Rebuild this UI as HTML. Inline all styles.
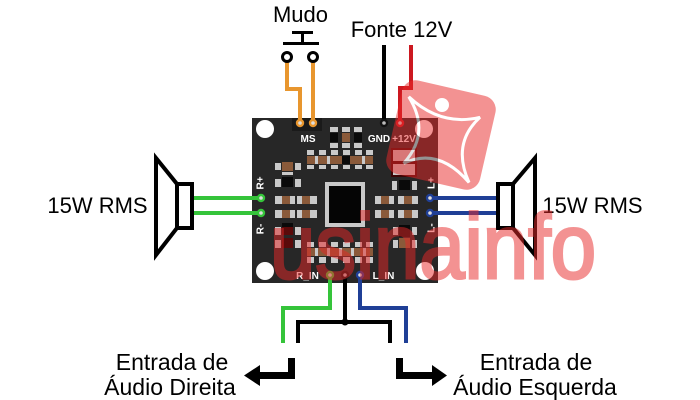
<!DOCTYPE html>
<html><head><meta charset="utf-8"><style>
html,body{margin:0;padding:0;background:#fff}
svg{display:block}
text{font-family:"Liberation Sans",Arial,sans-serif}
</style></head><body>
<svg width="700" height="400" viewBox="0 0 700 400" xmlns="http://www.w3.org/2000/svg">
<rect width="700" height="400" fill="#fff"/>

<!-- top labels -->
<text x="300.5" y="22" font-size="22" text-anchor="middle" fill="#000">Mudo</text>
<text x="401.5" y="37" font-size="22" text-anchor="middle" fill="#000">Fonte 12V</text>

<!-- push button -->
<g stroke="#000" stroke-width="3" fill="none">
<line x1="292" y1="32.5" x2="313" y2="32.5"/>
<line x1="302.5" y1="32" x2="302.5" y2="44"/>
<line x1="283" y1="43.5" x2="319" y2="43.5"/>
</g>

<!-- board -->
<rect x="252" y="118" width="186" height="165" fill="#272727"/>
<rect x="292" y="118" width="30" height="13" fill="#1a1a1a"/>
<circle cx="265" cy="129" r="9" fill="#fff"/>
<circle cx="424" cy="129" r="9" fill="#fff"/>
<circle cx="265" cy="271" r="9" fill="#fff"/>
<circle cx="425" cy="271" r="9" fill="#fff"/>

<!-- pads -->
<g>
<rect x="330" y="127" width="8" height="5" fill="#c9c9c9"/>
<rect x="342" y="127" width="8" height="5" fill="#c9c9c9"/>
<rect x="354" y="127" width="8" height="5" fill="#c9c9c9"/>
<rect x="330" y="133" width="8" height="9" fill="#0a0a0a"/>
<rect x="342" y="133" width="8" height="9" fill="#8a5a3a"/>
<rect x="354" y="133" width="8" height="9" fill="#0a0a0a"/>
<rect x="330" y="143" width="8" height="5" fill="#c9c9c9"/>
<rect x="342" y="143" width="8" height="5" fill="#c9c9c9"/>
<rect x="354" y="143" width="8" height="5" fill="#c9c9c9"/>
<rect x="307" y="150" width="7" height="5" fill="#c9c9c9"/>
<rect x="319" y="150" width="7" height="5" fill="#c9c9c9"/>
<rect x="331" y="150" width="7" height="5" fill="#c9c9c9"/>
<rect x="343" y="150" width="7" height="5" fill="#c9c9c9"/>
<rect x="355" y="150" width="7" height="5" fill="#c9c9c9"/>
<rect x="366" y="150" width="7" height="5" fill="#c9c9c9"/>
<rect x="307" y="156" width="66" height="8" fill="#8a5a3a"/>
<rect x="315" y="156" width="3" height="8" fill="#c9c9c9"/>
<rect x="327" y="156" width="3" height="8" fill="#c9c9c9"/>
<rect x="342" y="156" width="8" height="8" fill="#0a0a0a"/>
<rect x="362" y="156" width="3" height="8" fill="#c9c9c9"/>
<rect x="307" y="165" width="7" height="4" fill="#c9c9c9"/>
<rect x="319" y="165" width="7" height="4" fill="#c9c9c9"/>
<rect x="331" y="165" width="7" height="4" fill="#c9c9c9"/>
<rect x="343" y="165" width="7" height="4" fill="#c9c9c9"/>
<rect x="355" y="165" width="7" height="4" fill="#c9c9c9"/>
<rect x="366" y="165" width="7" height="4" fill="#c9c9c9"/>
<rect x="275" y="163" width="6" height="7" fill="#c9c9c9"/>
<rect x="282" y="162" width="11" height="9" fill="#8a5a3a"/>
<rect x="295" y="163" width="6" height="7" fill="#c9c9c9"/>
<rect x="282" y="172" width="11" height="3" fill="#c9c9c9"/>
<rect x="275" y="179" width="6" height="8" fill="#c9c9c9"/>
<rect x="282" y="177" width="11" height="10" fill="#0a0a0a"/>
<rect x="295" y="179" width="6" height="8" fill="#c9c9c9"/>
<rect x="275" y="196" width="7" height="8" fill="#c9c9c9"/>
<rect x="282" y="196" width="8" height="8" fill="#8a5a3a"/>
<rect x="290" y="196" width="5" height="8" fill="#c9c9c9"/>
<rect x="297" y="196" width="5" height="8" fill="#c9c9c9"/>
<rect x="302" y="196" width="8" height="8" fill="#8a5a3a"/>
<rect x="310" y="196" width="7" height="8" fill="#c9c9c9"/>
<rect x="275" y="210" width="7" height="8" fill="#c9c9c9"/>
<rect x="282" y="210" width="8" height="8" fill="#8a5a3a"/>
<rect x="290" y="210" width="5" height="8" fill="#c9c9c9"/>
<rect x="297" y="210" width="5" height="8" fill="#c9c9c9"/>
<rect x="302" y="210" width="8" height="8" fill="#8a5a3a"/>
<rect x="310" y="210" width="7" height="8" fill="#c9c9c9"/>
<rect x="375" y="196" width="6" height="8" fill="#c9c9c9"/>
<rect x="381" y="196" width="8" height="8" fill="#8a5a3a"/>
<rect x="389" y="196" width="5" height="8" fill="#c9c9c9"/>
<rect x="398" y="196" width="6" height="8" fill="#c9c9c9"/>
<rect x="404" y="196" width="8" height="8" fill="#8a5a3a"/>
<rect x="412" y="196" width="6" height="8" fill="#c9c9c9"/>
<rect x="375" y="210" width="6" height="8" fill="#c9c9c9"/>
<rect x="381" y="210" width="8" height="8" fill="#8a5a3a"/>
<rect x="389" y="210" width="5" height="8" fill="#c9c9c9"/>
<rect x="398" y="210" width="6" height="8" fill="#c9c9c9"/>
<rect x="404" y="210" width="8" height="8" fill="#8a5a3a"/>
<rect x="412" y="210" width="6" height="8" fill="#c9c9c9"/>
<rect x="325" y="182" width="40" height="45" fill="#c9c9c9"/>
<rect x="329" y="186" width="32" height="37" fill="#050505"/>
<rect x="275" y="227" width="6" height="8" fill="#c9c9c9"/>
<rect x="282" y="223" width="11" height="4" fill="#0a0a0a"/>
<rect x="282" y="227" width="11" height="8" fill="#5a0a0a"/>
<rect x="295" y="227" width="6" height="8" fill="#c9c9c9"/>
<rect x="275" y="240" width="6" height="8" fill="#c9c9c9"/>
<rect x="282" y="238" width="11" height="10" fill="#5a0a0a"/>
<rect x="295" y="240" width="6" height="8" fill="#c9c9c9"/>
<rect x="307" y="242" width="7" height="5" fill="#c9c9c9"/>
<rect x="319" y="242" width="7" height="5" fill="#c9c9c9"/>
<rect x="331" y="242" width="7" height="5" fill="#c9c9c9"/>
<rect x="343" y="242" width="7" height="5" fill="#c9c9c9"/>
<rect x="355" y="242" width="7" height="5" fill="#c9c9c9"/>
<rect x="366" y="242" width="7" height="5" fill="#c9c9c9"/>
<rect x="307" y="248" width="66" height="8" fill="#8a5a3a"/>
<rect x="315" y="248" width="3" height="8" fill="#c9c9c9"/>
<rect x="327" y="248" width="3" height="8" fill="#c9c9c9"/>
<rect x="339" y="248" width="3" height="8" fill="#c9c9c9"/>
<rect x="351" y="248" width="3" height="8" fill="#c9c9c9"/>
<rect x="363" y="248" width="3" height="8" fill="#c9c9c9"/>
<rect x="307" y="257" width="7" height="6" fill="#c9c9c9"/>
<rect x="319" y="257" width="7" height="6" fill="#c9c9c9"/>
<rect x="331" y="257" width="7" height="6" fill="#c9c9c9"/>
<rect x="343" y="257" width="7" height="6" fill="#c9c9c9"/>
<rect x="355" y="257" width="7" height="6" fill="#c9c9c9"/>
<rect x="366" y="257" width="7" height="6" fill="#c9c9c9"/>
<rect x="393" y="227" width="5" height="8" fill="#c9c9c9"/>
<rect x="399" y="225" width="11" height="12" fill="#0a0a0a"/>
<rect x="412" y="227" width="5" height="8" fill="#c9c9c9"/>
<rect x="393" y="240" width="5" height="8" fill="#c9c9c9"/>
<rect x="399" y="238" width="11" height="10" fill="#8a5a3a"/>
<rect x="412" y="240" width="5" height="8" fill="#c9c9c9"/>
<rect x="391" y="148" width="26" height="29" fill="#3a0505"/>
<rect x="393" y="150" width="22" height="11" fill="#c9c9c9"/>
<rect x="393" y="164" width="22" height="11" fill="#c9c9c9"/>
<rect x="392" y="181" width="5" height="9" fill="#c9c9c9"/>
<rect x="399" y="180" width="11" height="10" fill="#0a0a0a"/>
<rect x="412" y="181" width="5" height="9" fill="#c9c9c9"/>
</g>

<!-- board labels -->
<g font-size="10" font-weight="bold" fill="#fff" text-anchor="middle">
<text x="308" y="142">MS</text>
<text x="379" y="142">GND</text>
<text x="404" y="142">+12V</text>
<text x="307.5" y="279">R_IN</text>
<text x="383.5" y="279">L_IN</text>
<text transform="translate(263.5,183) rotate(-90)">R+</text>
<text transform="translate(263.5,229) rotate(-90)">R-</text>
<text transform="translate(434.5,183) rotate(-90)">L+</text>
<text transform="translate(434.5,228) rotate(-90)">L-</text>
</g>

<!-- wires -->
<g fill="none" stroke-width="4" stroke-linejoin="miter" stroke-linecap="butt">
<path d="M287,62 V89 H300 V123" stroke="#e8962e"/>
<path d="M313,62 V123" stroke="#e8962e"/>
<path d="M384,45 V123" stroke="#000"/>
<path d="M411,45 V88 H400 V123" stroke="#cc1820"/>
<path d="M192,198 H261" stroke="#35c43a"/>
<path d="M192,213 H261" stroke="#35c43a"/>
<path d="M430,198 H498" stroke="#1f3f96"/>
<path d="M430,213 H498" stroke="#1f3f96"/>
<path d="M330,275 V308 H283 V343" stroke="#35c43a"/>
<path d="M345,275 V322" stroke="#000"/>
<path d="M298,343 V322 H390 V343" stroke="#000"/>
<path d="M360,275 V308 H406 V343" stroke="#1f3f96"/>
</g>
<circle cx="345" cy="322" r="3.5" fill="#000"/>

<!-- switch contacts -->
<circle cx="287" cy="57" r="4.5" fill="#fff" stroke="#000" stroke-width="3"/>
<circle cx="313" cy="57" r="4.5" fill="#fff" stroke="#000" stroke-width="3"/>

<!-- pins -->
<g>
<circle cx="300" cy="123" r="4.2" fill="#e8962e"/><circle cx="300" cy="123" r="1.8" fill="#ddd"/>
<circle cx="313" cy="123" r="4.2" fill="#e8962e"/><circle cx="313" cy="123" r="1.8" fill="#ddd"/>
<circle cx="384" cy="123" r="4.2" fill="#111"/><circle cx="384" cy="123" r="1.8" fill="#bbb"/>
<circle cx="400" cy="123" r="4.2" fill="#cc1820"/><circle cx="400" cy="123" r="1.8" fill="#ddd"/>
<circle cx="261" cy="198" r="4.2" fill="#35c43a"/><circle cx="261" cy="198" r="1.8" fill="#ddd"/>
<circle cx="261" cy="213" r="4.2" fill="#35c43a"/><circle cx="261" cy="213" r="1.8" fill="#ddd"/>
<circle cx="430" cy="198" r="4.2" fill="#1f3f96"/><circle cx="430" cy="198" r="1.8" fill="#ddd"/>
<circle cx="430" cy="213" r="4.2" fill="#1f3f96"/><circle cx="430" cy="213" r="1.8" fill="#ddd"/>
<circle cx="330" cy="275" r="4.2" fill="#35c43a"/><circle cx="330" cy="275" r="1.8" fill="#ddd"/>
<circle cx="345" cy="275" r="4.2" fill="#111"/><circle cx="345" cy="275" r="1.8" fill="#bbb"/>
<circle cx="360" cy="275" r="4.2" fill="#1f3f96"/><circle cx="360" cy="275" r="1.8" fill="#ddd"/>
</g>

<!-- speakers -->
<g fill="#fff" stroke="#000" stroke-width="4" stroke-linejoin="miter">
<polygon points="156,158 177,184 177,228 156,255"/>
<rect x="177" y="184" width="15" height="44"/>
<polygon points="535,158 513,184 513,228 535,255"/>
<rect x="498" y="184" width="15" height="44"/>
</g>
<text x="97.5" y="213" font-size="22" text-anchor="middle" fill="#000">15W RMS</text>
<text x="592.5" y="213" font-size="22" text-anchor="middle" fill="#000">15W RMS</text>

<!-- arrows -->
<polygon points="295,358 295,379 260,379 260,386 244,375.5 260,365 260,372 288,372 288,358" fill="#000"/>
<polygon points="396,358 396,379 432,379 432,386 447,375.5 432,365 432,372 403,372 403,358" fill="#000"/>

<!-- bottom labels -->
<g font-size="23" text-anchor="middle" fill="#000">
<text x="172" y="370">Entrada de</text>
<text x="170" y="395">Áudio Direita</text>
<text x="536" y="370">Entrada de</text>
<text x="535" y="395">Áudio Esquerda</text>
</g>

<!-- watermark -->
<g opacity="0.5">
<rect x="-48" y="-48" width="96" height="96" rx="14" fill="#e82828" transform="translate(441,135) rotate(13)"/>
<path d="M-40,-30 Q-2,-8 34,-26 Q12,6 38,40 Q0,12 -30,36 Q-10,0 -40,-30 Z" fill="none" stroke="#fff" stroke-width="3" transform="translate(441,135) rotate(13)"/>
<circle cx="442" cy="105" r="7" fill="#fff"/>
<text x="270" y="278" font-size="92" fill="#e82828" stroke="#e82828" stroke-width="3" textLength="326" lengthAdjust="spacingAndGlyphs">usinainfo</text>
</g>
</svg>
</body></html>
